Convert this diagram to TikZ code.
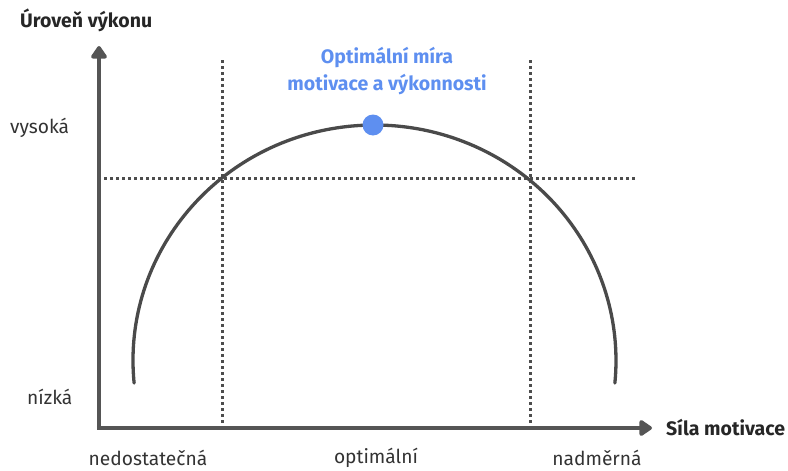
\documentclass[tikz,border=0pt]{standalone}
\usepackage{fontspec}
\setmainfont{Fira Sans}
\usetikzlibrary{arrows.meta}
\definecolor{axisgray}{HTML}{555555}
\definecolor{curvegray}{HTML}{4A4A4A}
\definecolor{dotgray}{HTML}{4D4D4D}
\definecolor{accent}{HTML}{5E8FF0}
\begin{document}
\begin{tikzpicture}[x=1pt,y=-1pt,
  axisline/.style={draw=axisgray,line width=4.5pt,-{Triangle[width=18pt,length=14pt,round]}},
  guide/.style={draw=dotgray,line width=3pt,dash pattern=on 3pt off 3pt},
  curve/.style={draw=curvegray,line width=3.3pt,line cap=round},
  lbl/.style={font=\fontsize{19.2}{22}\selectfont,text=black!80,inner sep=0pt},
  bold/.style={font=\fontsize{19.5}{22}\selectfont\bfseries,text=black!85,inner sep=0pt},
  title/.style={font=\fontsize{19.5}{27}\selectfont\bfseries,text=accent,align=center,inner sep=0pt}]
\useasboundingbox (0,0) rectangle (788,471);
\coordinate (O) at (99,428);
\coordinate (ytip) at (99,46);
\coordinate (xtip) at (652,428);
\coordinate (v1t) at (222,60);
\coordinate (v1b) at (222,426);
\coordinate (v2t) at (530,60);
\coordinate (v2b) at (530,426);
\coordinate (hl) at (104,178);
\coordinate (hr) at (637,178);
% guides
\draw[guide] (v1t) -- (v1b);
\draw[guide] (v2t) -- (v2b);
\draw[guide] (hl) -- (hr);
% axes
\draw[axisline] (O) -- (ytip);
\draw[axisline] ([xshift=-2.25pt]O) -- (xtip);
% curve (ellipse arc)
\coordinate (C) at (374.5,360.5);
\draw[curve] ([shift={(185.5:241.5 and -235.5)}]C) arc[start angle=185.5,end angle=-5.5,x radius=241.5,y radius=-235.5];
% optimum point
\node[circle,fill=accent,minimum size=21pt,inner sep=0pt] (opt) at (373,125) {};
% texts
\node[bold,anchor=west] (ylab) at (20,20) {Úroveň výkonu};
\node[bold,anchor=west] (xlab) at (666,428) {Síla motivace};
\node[lbl,anchor=west] (hi) at (10,128) {vysoká};
\node[lbl,anchor=west] (lo) at (27,397) {nízká};
\node[lbl] (l1) at (148,458) {nedostatečná};
\node[lbl] (l2) at (376,458) {optimální};
\node[lbl] (l3) at (597,458) {nadměrná};
\node[title] (tt) at (387,71) {Optimální míra\\motivace a výkonnosti};
\end{tikzpicture}
\end{document}
